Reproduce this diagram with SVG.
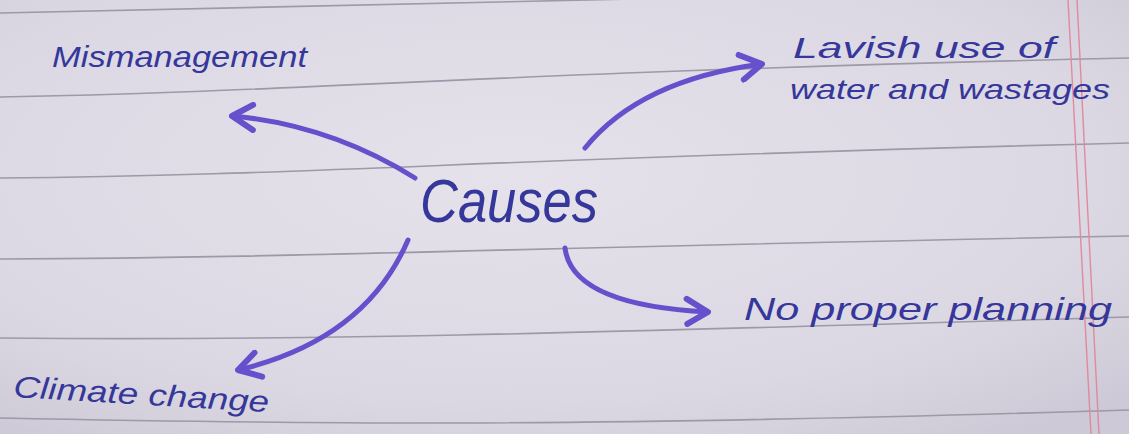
<svg xmlns="http://www.w3.org/2000/svg" width="1129" height="434" viewBox="0 0 1129 434">
<defs>
<radialGradient id="paper" cx="0.45" cy="0.4" r="0.75">
<stop offset="0" stop-color="#e6e2ec"/>
<stop offset="0.7" stop-color="#dcd8e3"/>
<stop offset="1" stop-color="#cdc9d6"/>
</radialGradient>
<marker id="head" viewBox="-26 -16 30 32" refX="0" refY="0" markerWidth="30" markerHeight="32" markerUnits="userSpaceOnUse" orient="auto">
<path d="M -22 -12 L 0 0 L -20 13" fill="none" stroke="#6650cc" stroke-width="6" stroke-linecap="round" stroke-linejoin="round"/>
</marker>
<style>
.rule{fill:none;stroke:#9c99a8;stroke-width:1.6}
.margin{fill:none;stroke:#e08a9c;stroke-width:1.4}
.ink{font-family:"Liberation Sans","DejaVu Sans",sans-serif;font-style:italic;fill:#35379a}
.arrow{fill:none;stroke:#6650cc;stroke-width:5;stroke-linecap:round;marker-end:url(#head)}
</style>
</defs>
<rect width="1129" height="434" fill="url(#paper)"/>
<g id="paper-lines">
<path class="rule" d="M0 13 C300 6 700 -4 1129 -12"/>
<path class="rule" d="M0 97 C300 92 500 72 1129 58"/>
<path class="rule" d="M0 178 C300 176 500 158 1129 143"/>
<path class="rule" d="M0 259 C300 258 500 248 1129 236"/>
<path class="rule" d="M0 338 C300 341 550 334 1129 317"/>
<path class="rule" d="M0 418 C300 424 550 428 1129 410"/>
<path class="margin" d="M1068 0 L1091 434"/>
<path class="margin" d="M1077 0 L1099 434"/>
</g>
<g id="connectors">
<path class="arrow" d="M415 178 Q330 125 232 116"/>
<path class="arrow" d="M585 148 Q640 80 762 64"/>
<path class="arrow" d="M565 248 Q572 305 708 312"/>
<path class="arrow" d="M408 240 Q365 340 238 370"/>
</g>
<g id="node-causes">
<text class="ink" x="420" y="222" font-size="62" textLength="178" lengthAdjust="spacingAndGlyphs">Causes</text>
</g>
<g id="node-mismanagement">
<text class="ink" x="52" y="67" font-size="30" textLength="255" lengthAdjust="spacingAndGlyphs">Mismanagement</text>
</g>
<g id="node-lavish">
<text class="ink" x="793" y="58" font-size="30" textLength="262" lengthAdjust="spacingAndGlyphs">Lavish use of</text>
<text class="ink" x="790" y="99" font-size="28" textLength="320" lengthAdjust="spacingAndGlyphs">water and wastages</text>
</g>
<g id="node-planning">
<text class="ink" x="744" y="320" font-size="32" textLength="368" lengthAdjust="spacingAndGlyphs">No proper planning</text>
</g>
<g id="node-climate">
<text class="ink" x="13" y="397" font-size="30" textLength="256" lengthAdjust="spacingAndGlyphs" transform="rotate(3.4 13 397)">Climate change</text>
</g>
</svg>
